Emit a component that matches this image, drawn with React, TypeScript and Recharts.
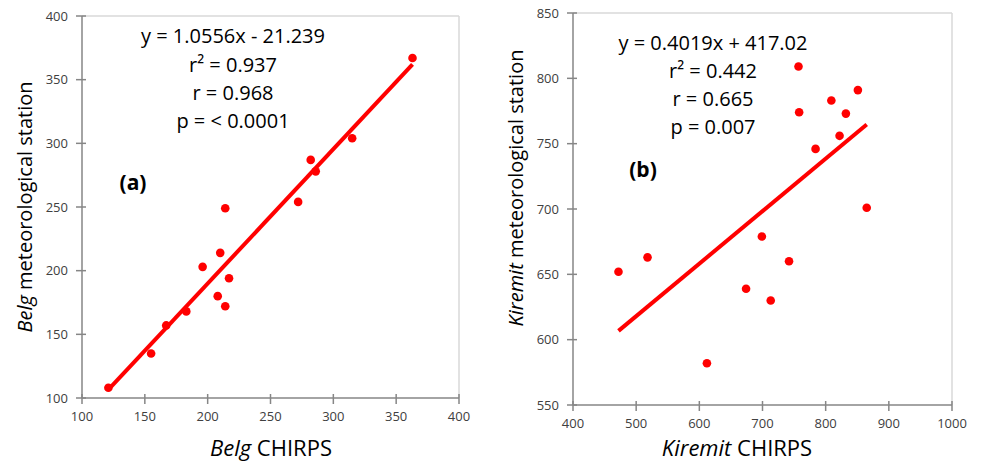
import { ScatterChart, Scatter, XAxis, YAxis, ReferenceLine } from 'recharts';

// Belg season: CHIRPS vs station rainfall
const belgChirps = [121, 155, 167, 183, 196, 208, 210, 214, 217, 214, 272, 282, 286, 315, 363];
const belgStation = [108, 135, 157, 168, 203, 180, 214, 172, 194, 249, 254, 287, 278, 304, 367];
const belgFit = { slope: 1.0556, intercept: -21.239 };
const belgXTicks = [100, 150, 200, 250, 300, 350, 400];
const belgYTicks = [100, 150, 200, 250, 300, 350, 400];

// Kiremit season: CHIRPS vs station rainfall
const kiremitChirps = [472, 518, 612, 674, 699, 713, 742, 757, 758, 784, 809, 822, 832, 851, 865];
const kiremitStation = [652, 663, 582, 639, 679, 630, 660, 809, 774, 746, 783, 756, 773, 791, 701];
const kiremitFit = { slope: 0.4019, intercept: 417.02 };
const kiremitXTicks = [400, 500, 600, 700, 800, 900, 1000];
const kiremitYTicks = [550, 600, 650, 700, 750, 800, 850];

const RED = '#ff0000';
const AXIS = '#868686';
const FRAME = '#d9d9d9';
const FONT = '"Open Sans", sans-serif';
const TICK_OUT = 6;
const TICK_IN = 4;
const TICK_GAP = 8;

const toPoints = (xs: number[], ys: number[]) => xs.map((x, i) => ({ x, y: ys[i] }));

const fitLine = (xs: number[], fit: { slope: number; intercept: number }) => {
  const lo = Math.min(...xs);
  const hi = Math.max(...xs);
  return [lo, hi].map(x => ({ x, y: fit.slope * x + fit.intercept }));
};

const Dot = (props: any) => <circle cx={props.cx} cy={props.cy} r={4.3} fill={RED} />;
const NoDot = () => <g />;

// excel-style "cross" tick marks + label
const XTick = (props: any) => {
  const { x, y, payload } = props;
  const axisY = y - TICK_OUT - TICK_GAP;
  return (
    <g>
      <line x1={x} x2={x} y1={axisY - TICK_IN} y2={axisY + TICK_OUT} stroke={AXIS} strokeWidth={1.5} />
      <text x={x} y={y} dy="0.71em" textAnchor="middle" fontSize={13} fill="#404040" fontFamily={FONT}>
        {payload.value}
      </text>
    </g>
  );
};

const YTick = (props: any) => {
  const { x, y, payload } = props;
  const axisX = x + TICK_OUT + TICK_GAP;
  return (
    <g>
      <line x1={axisX - TICK_OUT} x2={axisX + TICK_IN} y1={y} y2={y} stroke={AXIS} strokeWidth={1.5} />
      <text x={x} y={y} dy="0.355em" textAnchor="end" fontSize={13} fill="#404040" fontFamily={FONT}>
        {payload.value}
      </text>
    </g>
  );
};

interface PanelProps {
  width: number;
  height: number;
  margin: { top: number; right: number; bottom: number; left: number };
  points: { x: number; y: number }[];
  line: { x: number; y: number }[];
  xTicks: number[];
  yTicks: number[];
}

function Panel({ width, height, margin, points, line, xTicks, yTicks }: PanelProps) {
  const xDomain: [number, number] = [xTicks[0], xTicks[xTicks.length - 1]];
  const yDomain: [number, number] = [yTicks[0], yTicks[yTicks.length - 1]];
  return (
    <ScatterChart width={width} height={height} margin={margin}>
      <ReferenceLine y={yDomain[1]} stroke={FRAME} strokeWidth={1.5} />
      <ReferenceLine x={xDomain[1]} stroke={FRAME} strokeWidth={1.5} />
      <XAxis
        type="number"
        dataKey="x"
        domain={xDomain}
        ticks={xTicks}
        height={30}
        stroke={AXIS}
        strokeWidth={1.5}
        tickSize={TICK_OUT}
        tickMargin={TICK_GAP}
        tickLine={false}
        tick={XTick}
      />
      <YAxis
        type="number"
        dataKey="y"
        domain={yDomain}
        ticks={yTicks}
        width={40}
        stroke={AXIS}
        strokeWidth={1.5}
        tickSize={TICK_OUT}
        tickMargin={TICK_GAP}
        tickLine={false}
        tick={YTick}
      />
      <Scatter
        data={line}
        line={{ stroke: RED, strokeWidth: 4 }}
        lineType="joint"
        shape={NoDot}
        isAnimationActive={false}
      />
      <Scatter data={points} shape={Dot} isAnimationActive={false} />
    </ScatterChart>
  );
}

export default function App() {
  const textStyle = { fontFamily: FONT, fill: '#000' };
  return (
    <div style={{ position: 'fixed', left: 0, top: 0, width: 983, height: 463, background: '#fff' }}>
      <div style={{ position: 'absolute', left: 0, top: 0 }}>
        <Panel
          width={480}
          height={463}
          margin={{ top: 16, right: 21, bottom: 35, left: 42 }}
          points={toPoints(belgChirps, belgStation)}
          line={fitLine(belgChirps, belgFit)}
          xTicks={belgXTicks}
          yTicks={belgYTicks}
        />
      </div>
      <div style={{ position: 'absolute', left: 490, top: 0 }}>
        <Panel
          width={493}
          height={463}
          margin={{ top: 13, right: 31, bottom: 28, left: 43 }}
          points={toPoints(kiremitChirps, kiremitStation)}
          line={fitLine(kiremitChirps, kiremitFit)}
          xTicks={kiremitXTicks}
          yTicks={kiremitYTicks}
        />
      </div>

      {/* annotations and axis titles */}
      <svg width={983} height={463} style={{ position: 'absolute', left: 0, top: 0, pointerEvents: 'none' }}>
        <g style={textStyle} fontSize={20} textAnchor="middle">
          <text x={233} y={43}>y = 1.0556x - 21.239</text>
          <text x={233} y={72}>r² = 0.937</text>
          <text x={233} y={100}>r = 0.968</text>
          <text x={233} y={128}>p = &lt; 0.0001</text>

          <text x={713} y={50}>y = 0.4019x + 417.02</text>
          <text x={713} y={78}>r² = 0.442</text>
          <text x={713} y={106}>r = 0.665</text>
          <text x={713} y={134}>p = 0.007</text>
        </g>
        <g style={textStyle} fontSize={21} fontWeight={700} textAnchor="middle">
          <text x={133} y={190}>(a)</text>
          <text x={643} y={177}>(b)</text>
        </g>
        <g style={textStyle} fontSize={22} textAnchor="middle">
          <text x={271} y={456}>
            <tspan fontStyle="italic">Belg</tspan> CHIRPS
          </text>
          <text x={737} y={456}>
            <tspan fontStyle="italic">Kiremit</tspan> CHIRPS
          </text>
        </g>
        <g style={textStyle} fontSize={20} textAnchor="middle">
          <text x={32} y={207} transform="rotate(-90 32 207)">
            <tspan fontStyle="italic">Belg</tspan> meteorological  station
          </text>
          <text x={523} y={188} transform="rotate(-90 523 188)">
            <tspan fontStyle="italic">Kiremit</tspan> meteorological station
          </text>
        </g>
      </svg>
    </div>
  );
}
